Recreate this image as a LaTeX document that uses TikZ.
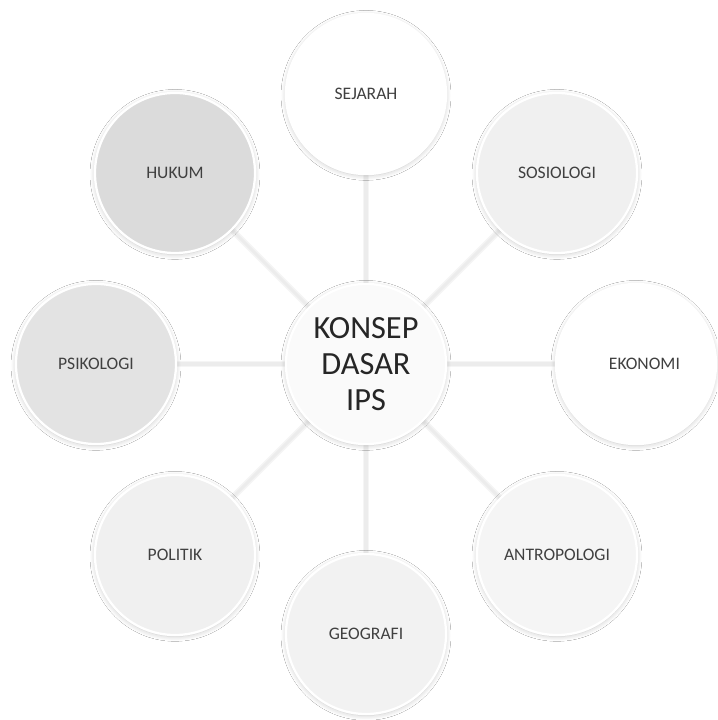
\documentclass[tikz,border=0pt]{standalone}
\usepackage{fontspec}
\setmainfont{Carlito}
\usetikzlibrary{shadows.blur}
\definecolor{teksabu}{HTML}{404040}
\definecolor{garisabu}{HTML}{ECECEC}
\begin{document}
\begin{tikzpicture}[x=0.025cm,y=0.025cm,
    bidang/.style={circle, minimum size=4cm, inner sep=0pt, draw=white, line width=1.6pt,
      blur shadow={shadow xshift=0pt, shadow yshift=-1pt, shadow blur radius=3.5pt,
        shadow blur steps=8, shadow opacity=22},
      font=\fontsize{12.5}{14}\selectfont, text=teksabu},
    pokok/.style={bidang, fill=black!2, font=\fontsize{23}{25.5}\selectfont, text=black!85, align=center},
    hubung/.style={draw=garisabu, line width=2.2pt,
      preaction={draw=black!4, line width=4.5pt}}]
  \useasboundingbox (0,0) rectangle (717,720);
  \fill [white] (0,0) rectangle (717,720);
  % pusat dan cabang
  \coordinate (pusatc) at (366,356);
  \coordinate (sejarahc) at (366,626);
  \coordinate (sosiologic) at (557,547);
  \coordinate (ekonomic) at (636,356);
  \coordinate (antropologic) at (557,165);
  \coordinate (geografic) at (366,86);
  \coordinate (politikc) at (175,165);
  \coordinate (psikologic) at (96,356);
  \coordinate (hukumc) at (175,547);
  % garis penghubung
  \draw [hubung] (pusatc) -- (sejarahc);
  \draw [hubung] (pusatc) -- (sosiologic);
  \draw [hubung] (pusatc) -- (ekonomic);
  \draw [hubung] (pusatc) -- (antropologic);
  \draw [hubung] (pusatc) -- (geografic);
  \draw [hubung] (pusatc) -- (politikc);
  \draw [hubung] (pusatc) -- (psikologic);
  \draw [hubung] (pusatc) -- (hukumc);
  % lingkaran
  \node [bidang, fill=white] (sejarah) at (sejarahc) {SEJARAH};
  \node [bidang, fill=black!6] (sosiologi) at (sosiologic) {SOSIOLOGI};
  \node [bidang, fill=white] (ekonomi) at (ekonomic) {\hspace{12pt}EKONOMI};
  \node [bidang, fill=black!4] (antropologi) at (antropologic) {ANTROPOLOGI};
  \node [bidang, fill=black!5] (geografi) at (geografic) {GEOGRAFI};
  \node [bidang, fill=black!6] (politik) at (politikc) {POLITIK};
  \node [bidang, fill=black!11] (psikologi) at (psikologic) {PSIKOLOGI};
  \node [bidang, fill=black!14] (hukum) at (hukumc) {HUKUM};
  \node [pokok] (pusat) at (pusatc) {KONSEP\\DASAR\\IPS};
\end{tikzpicture}
\end{document}
